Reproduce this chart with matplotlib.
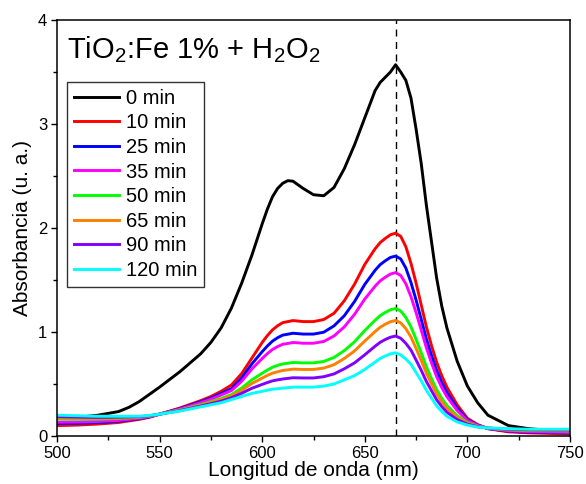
import matplotlib
matplotlib.use("Agg")
import matplotlib.pyplot as plt
from matplotlib.ticker import MultipleLocator

plt.rcParams['font.family'] = ['Liberation Sans', 'DejaVu Sans']
plt.rcParams['mathtext.fontset'] = 'custom'
plt.rcParams['mathtext.rm'] = 'Liberation Sans'
plt.rcParams['mathtext.it'] = 'Liberation Sans:italic'
plt.rcParams['mathtext.bf'] = 'Liberation Sans:bold'

wavelength = [500, 510, 520, 530, 535, 540, 545, 550, 560, 570, 575, 580, 585, 590, 595, 600,
              602.5, 605, 607.5, 610, 612.5, 615, 620, 625, 630, 635, 640, 645, 650, 655,
              657.5, 660, 662.5, 665, 667.5, 670, 672.5, 675, 677.5, 680, 682.5, 685, 687.5,
              690, 695, 700, 705, 710, 720, 730, 740, 750]

abs_0 = [0.17, 0.18, 0.20, 0.235, 0.275, 0.33, 0.40, 0.47, 0.62, 0.79, 0.90, 1.04, 1.23, 1.47, 1.74, 2.04,
         2.18, 2.30, 2.38, 2.43, 2.455, 2.45, 2.38, 2.32, 2.31, 2.39, 2.57, 2.80, 3.06, 3.32,
         3.40, 3.45, 3.50, 3.57, 3.50, 3.42, 3.25, 2.95, 2.62, 2.22, 1.87, 1.52, 1.25,
         1.04, 0.72, 0.48, 0.32, 0.20, 0.10, 0.07, 0.055, 0.05]
abs_10 = [0.100, 0.105, 0.115, 0.130, 0.145, 0.160, 0.180, 0.210, 0.270, 0.340, 0.380, 0.430, 0.490, 0.600, 0.750, 0.900,
          0.965, 1.020, 1.060, 1.090, 1.100, 1.110, 1.100, 1.100, 1.120, 1.180, 1.300, 1.460, 1.650, 1.800,
          1.860, 1.900, 1.935, 1.950, 1.920, 1.820, 1.660, 1.470, 1.260, 1.050, 0.870, 0.710, 0.580,
          0.470, 0.300, 0.170, 0.110, 0.070, 0.040, 0.030, 0.025, 0.020]
abs_25 = [0.119, 0.122, 0.129, 0.141, 0.154, 0.166, 0.183, 0.210, 0.264, 0.330, 0.365, 0.410, 0.455, 0.558, 0.694, 0.811,
          0.865, 0.912, 0.945, 0.970, 0.979, 0.988, 0.980, 0.980, 0.998, 1.059, 1.156, 1.293, 1.458, 1.593,
          1.648, 1.685, 1.717, 1.730, 1.703, 1.615, 1.476, 1.307, 1.121, 0.934, 0.774, 0.630, 0.514,
          0.417, 0.269, 0.158, 0.105, 0.072, 0.046, 0.037, 0.033, 0.029]
abs_35 = [0.133, 0.135, 0.140, 0.150, 0.160, 0.170, 0.186, 0.210, 0.260, 0.320, 0.354, 0.394, 0.437, 0.527, 0.645, 0.745,
          0.792, 0.832, 0.860, 0.882, 0.890, 0.899, 0.892, 0.892, 0.909, 0.962, 1.049, 1.170, 1.317, 1.440,
          1.492, 1.527, 1.557, 1.571, 1.544, 1.464, 1.340, 1.186, 1.019, 0.849, 0.703, 0.571, 0.466,
          0.378, 0.246, 0.149, 0.102, 0.073, 0.050, 0.042, 0.038, 0.035]
abs_50 = [0.163, 0.162, 0.162, 0.168, 0.173, 0.179, 0.191, 0.210, 0.251, 0.302, 0.330, 0.361, 0.398, 0.461, 0.540, 0.604,
          0.634, 0.661, 0.679, 0.693, 0.700, 0.707, 0.703, 0.703, 0.717, 0.755, 0.821, 0.906, 1.014, 1.113,
          1.158, 1.188, 1.214, 1.226, 1.202, 1.140, 1.049, 0.928, 0.800, 0.666, 0.552, 0.445, 0.363,
          0.294, 0.196, 0.129, 0.094, 0.075, 0.059, 0.052, 0.050, 0.048]
abs_65 = [0.173, 0.171, 0.170, 0.174, 0.178, 0.182, 0.193, 0.210, 0.248, 0.296, 0.322, 0.350, 0.385, 0.439, 0.505, 0.557,
          0.582, 0.604, 0.618, 0.630, 0.636, 0.643, 0.640, 0.640, 0.653, 0.686, 0.745, 0.818, 0.913, 1.004,
          1.046, 1.075, 1.099, 1.111, 1.088, 1.032, 0.952, 0.842, 0.727, 0.605, 0.501, 0.403, 0.328,
          0.266, 0.180, 0.123, 0.092, 0.076, 0.062, 0.056, 0.054, 0.053]
abs_90 = [0.186, 0.182, 0.179, 0.182, 0.184, 0.186, 0.195, 0.210, 0.244, 0.288, 0.311, 0.335, 0.368, 0.411, 0.459, 0.496,
          0.514, 0.530, 0.540, 0.548, 0.554, 0.560, 0.558, 0.558, 0.570, 0.597, 0.646, 0.703, 0.781, 0.863,
          0.901, 0.928, 0.950, 0.961, 0.940, 0.891, 0.826, 0.730, 0.632, 0.525, 0.436, 0.349, 0.283,
          0.229, 0.158, 0.114, 0.089, 0.077, 0.066, 0.060, 0.059, 0.059]
abs_120 = [0.200, 0.195, 0.190, 0.190, 0.190, 0.190, 0.198, 0.210, 0.240, 0.280, 0.300, 0.320, 0.350, 0.380, 0.410, 0.430,
           0.440, 0.450, 0.455, 0.460, 0.465, 0.470, 0.470, 0.470, 0.480, 0.500, 0.540, 0.580, 0.640, 0.710,
           0.745, 0.770, 0.790, 0.800, 0.780, 0.740, 0.690, 0.610, 0.530, 0.440, 0.365, 0.290, 0.235,
           0.190, 0.135, 0.105, 0.085, 0.078, 0.070, 0.065, 0.065, 0.065]

labels = ['0 min', '10 min', '25 min', '35 min', '50 min', '65 min', '90 min', '120 min']
colors = ['#000000', '#FF0000', '#0000FF', '#FF00FF', '#00FF00', '#FF8000', '#8000FF', '#00FFFF']
series = [abs_0, abs_10, abs_25, abs_35, abs_50, abs_65, abs_90, abs_120]
peak_nm = 665

fig = plt.figure(figsize=(5.86, 4.84), dpi=100)
ax = fig.add_axes([57/586, 48/484, 513/586, 416/484])

for y, c, lab in zip(series, colors, labels):
    ax.plot(wavelength, y, color=c, lw=2.1, label=lab, solid_joinstyle='round')

ax.axvline(peak_nm, color='black', lw=1.0, ls=(0, (5, 4)), zorder=0.5)

ax.set_xlim(500, 750)
ax.set_ylim(0, 4)
ax.xaxis.set_major_locator(MultipleLocator(50))
ax.xaxis.set_minor_locator(MultipleLocator(25))
ax.yaxis.set_major_locator(MultipleLocator(1))
ax.yaxis.set_minor_locator(MultipleLocator(0.5))

for s in ax.spines.values():
    s.set_linewidth(1.1)

ax.tick_params(which='major', direction='out', length=4.5, width=1.0, labelsize=12, pad=2.5,
               top=False, right=False)
ax.tick_params(which='minor', direction='out', length=3.0, width=1.0, top=False, right=False)

ax.set_xlabel('Longitud de onda (nm)', fontsize=15, labelpad=0)
ax.set_ylabel('Absorbancia (u. a.)', fontsize=15, labelpad=4)

ax.text(0.0195, 0.9087, r'TiO$_\mathregular{2}$:Fe 1% + H$_\mathregular{2}$O$_\mathregular{2}$',
        transform=ax.transAxes, fontsize=21, ha='left', va='baseline')

leg = ax.legend(loc='upper left', bbox_to_anchor=(0.0195, 0.851), borderaxespad=0,
                fontsize=14.5, frameon=True, fancybox=False, edgecolor='black',
                handlelength=2.25, handletextpad=0.35, labelspacing=0.28, borderpad=0.33)
leg.get_frame().set_linewidth(1.0)
for h in leg.get_lines():
    h.set_linewidth(2.1)

fig.savefig('out.png', dpi=100)
